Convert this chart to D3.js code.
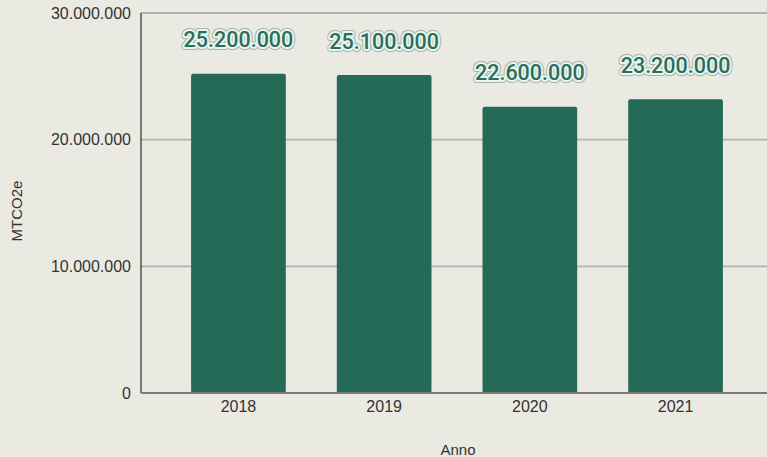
<!DOCTYPE html>
<html>
<head>
<meta charset="utf-8">
<script src="https://cdn.jsdelivr.net/npm/d3@7"></script>
<style>
  html, body { margin: 0; padding: 0; background: #eaeae2; }
  svg { display: block; }
</style>
</head>
<body>
<svg id="chart" width="767" height="457"></svg>
<script>
// Emissioni annue (MTCO2e)
const years = ["2018", "2019", "2020", "2021"];
const emissions = [25200000, 25100000, 22600000, 23200000];
const yTicks = [0, 10000000, 20000000, 30000000];
const yTitle = "MTCO2e";
const xTitle = "Anno";

const fmt = d3.formatLocale({ decimal: ",", thousands: ".", grouping: [3], currency: ["", "€"] }).format(",d");

const svg = d3.select("#chart");
const W = 767, H = 457;
const plot = { left: 141, top: 13, bottom: 393, right: 790 };
const axisFont = "Liberation Sans, Arial, sans-serif";

svg.append("rect").attr("width", W).attr("height", H).attr("fill", "#eaeae2");

const y = d3.scaleLinear().domain([0, 30000000]).range([plot.bottom, plot.top]);
const x = d3.scaleBand().domain(years).range([165.6, 748.4])
  .paddingInner(0.35).paddingOuter(0.175);

// gridlines
svg.append("g")
  .selectAll("line")
  .data(yTicks.filter(d => d > 0))
  .join("line")
  .attr("x1", plot.left).attr("x2", plot.right)
  .attr("y1", d => y(d)).attr("y2", d => y(d))
  .attr("stroke", "#b4b4ae").attr("stroke-width", 1.8);

// y axis labels
const yAxis = svg.append("g")
  .attr("transform", `translate(${plot.left},0)`)
  .call(d3.axisLeft(y).tickValues(yTicks).tickFormat(fmt).tickSize(0).tickPadding(10));
yAxis.select(".domain").remove();
yAxis.selectAll("text")
  .attr("font-family", axisFont)
  .attr("font-size", 16).attr("fill", "#333");

// bars
svg.append("g")
  .selectAll("rect")
  .data(years.map((d, i) => ({ year: d, value: emissions[i] })))
  .join("rect")
  .attr("x", d => x(d.year))
  .attr("y", d => y(d.value))
  .attr("width", x.bandwidth())
  .attr("height", d => y(0) - y(d.value))
  .attr("rx", 2)
  .attr("fill", "#256a57");

// axes lines
svg.append("line")
  .attr("x1", plot.left).attr("x2", plot.left)
  .attr("y1", plot.top).attr("y2", plot.bottom)
  .attr("stroke", "#2a2a2a").attr("stroke-width", 1.2);
svg.append("line")
  .attr("x1", plot.left).attr("x2", plot.right)
  .attr("y1", plot.bottom).attr("y2", plot.bottom)
  .attr("stroke", "#7a7a76").attr("stroke-width", 2.2);

// x axis labels
const xAxis = svg.append("g")
  .attr("transform", `translate(0,${plot.bottom})`)
  .call(d3.axisBottom(x).tickSize(0).tickPadding(8));
xAxis.select(".domain").remove();
xAxis.selectAll("text")
  .attr("font-family", axisFont)
  .attr("font-size", 16).attr("fill", "#333");

// value labels with halo
const labels = svg.append("g")
  .selectAll("g")
  .data(years.map((d, i) => ({ year: d, value: emissions[i] })))
  .join("g")
  .attr("transform", d => `translate(${x(d.year) + x.bandwidth() / 2},${y(d.value) - 34})`);
const labelStyle = sel => sel
  .attr("text-anchor", "middle")
  .attr("dominant-baseline", "central")
  .attr("font-family", "Roboto, sans-serif")
  .attr("font-weight", 500)
  .attr("font-size", 21.5)
  .text(d => fmt(d.value));
labels.append("text").call(labelStyle)
  .attr("fill", "none").attr("stroke", "#a9b2ae").attr("stroke-width", 6)
  .attr("stroke-linejoin", "round");
labels.append("text").call(labelStyle)
  .attr("fill", "none").attr("stroke", "#e6f7f0").attr("stroke-width", 4)
  .attr("stroke-linejoin", "round");
labels.append("text").call(labelStyle)
  .attr("fill", "#316c5a");

// axis titles
svg.append("text")
  .attr("transform", `translate(22,${(plot.top + plot.bottom) / 2 + 8}) rotate(-90)`)
  .attr("text-anchor", "middle")
  .attr("font-family", axisFont)
  .attr("font-size", 15).attr("fill", "#333")
  .text(yTitle);
svg.append("text")
  .attr("x", 458).attr("y", 455)
  .attr("text-anchor", "middle")
  .attr("font-family", axisFont)
  .attr("font-size", 15).attr("fill", "#333")
  .text(xTitle);
</script>
</body>
</html>
